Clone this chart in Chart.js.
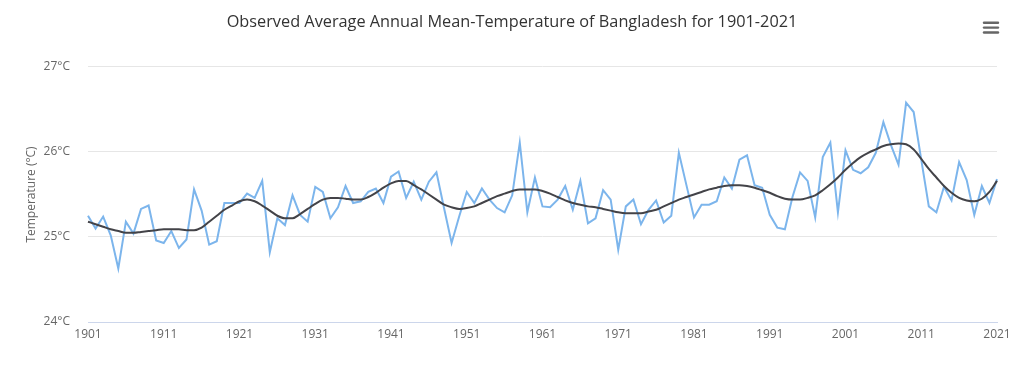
<!DOCTYPE html>
<html>
<head>
<meta charset="utf-8">
<title>Observed Average Annual Mean-Temperature of Bangladesh</title>
<script src="https://cdn.jsdelivr.net/npm/chart.js@4/dist/chart.umd.min.js"></script>
<style>
    html, body { margin: 0; padding: 0; background: #ffffff; }
    #wrap { width: 1024px; height: 380px; }
</style>
</head>
<body>
<div id="wrap"><canvas id="tempChart" width="1024" height="380"></canvas></div>
<script>
// Data
const years = [];
for (let y = 1901; y <= 2021; y++) years.push(String(y));

// observed annual mean (°C)
const observed = [
    25.25, 25.10, 25.24, 25.02, 24.63, 25.18, 25.04, 25.33, 25.37, 24.96,
    24.93, 25.07, 24.87, 24.97, 25.56, 25.31, 24.91, 24.95, 25.40, 25.40,
    25.40, 25.51, 25.46, 25.66, 24.82, 25.22, 25.14, 25.49, 25.26, 25.18,
    25.59, 25.53, 25.22, 25.35, 25.60, 25.40, 25.42, 25.53, 25.57, 25.40,
    25.71, 25.77, 25.46, 25.65, 25.44, 25.65, 25.76, 25.34, 24.93, 25.24,
    25.53, 25.40, 25.57, 25.44, 25.34, 25.29, 25.49, 26.11, 25.29, 25.70,
    25.36, 25.35, 25.44, 25.60, 25.32, 25.66, 25.16, 25.22, 25.55, 25.44,
    24.85, 25.36, 25.44, 25.15, 25.32, 25.43, 25.17, 25.25, 25.99, 25.61,
    25.23, 25.38, 25.38, 25.42, 25.70, 25.57, 25.91, 25.96, 25.61, 25.58,
    25.26, 25.11, 25.09, 25.47, 25.76, 25.66, 25.23, 25.94, 26.11, 25.29,
    26.02, 25.79, 25.75, 25.82, 25.99, 26.35, 26.08, 25.85, 26.58, 26.47,
    25.91, 25.36, 25.29, 25.59, 25.43, 25.88, 25.67, 25.26, 25.60, 25.40,
    25.68
];

// smoothed trend (°C)
const smoothed = [
    25.18, 25.15, 25.12, 25.09, 25.07, 25.05, 25.05, 25.06, 25.07, 25.08,
    25.09, 25.09, 25.09, 25.08, 25.08, 25.11, 25.18, 25.25, 25.32, 25.37,
    25.42, 25.44, 25.42, 25.37, 25.31, 25.25, 25.22, 25.22, 25.27, 25.33,
    25.39, 25.44, 25.46, 25.46, 25.45, 25.44, 25.44, 25.47, 25.52, 25.58,
    25.63, 25.66, 25.66, 25.61, 25.56, 25.50, 25.44, 25.38, 25.35, 25.33,
    25.34, 25.36, 25.40, 25.44, 25.48, 25.51, 25.54, 25.56, 25.56, 25.56,
    25.54, 25.51, 25.47, 25.43, 25.40, 25.38, 25.36, 25.35, 25.33, 25.31,
    25.29, 25.28, 25.28, 25.28, 25.30, 25.32, 25.36, 25.40, 25.44, 25.47,
    25.50, 25.53, 25.56, 25.58, 25.60, 25.61, 25.61, 25.60, 25.58, 25.55,
    25.52, 25.48, 25.45, 25.44, 25.44, 25.46, 25.49, 25.55, 25.62, 25.70,
    25.79, 25.87, 25.94, 25.99, 26.03, 26.07, 26.09, 26.10, 26.09, 26.03,
    25.92, 25.80, 25.70, 25.60, 25.52, 25.46, 25.43, 25.42, 25.45, 25.53,
    25.66
];

const yTicks = [24, 25, 26, 27];
const titleText = 'Observed Average Annual Mean-Temperature of Bangladesh for 1901-2021';

// Menu icon (top right)
const menuIcon = {
    id: 'menuIcon',
    afterDraw(chart) {
        const ctx = chart.ctx;
        ctx.save();
        ctx.strokeStyle = '#666666';
        ctx.lineWidth = 2.4;
        ctx.lineCap = 'round';
        [22.7, 27.6, 32.5].forEach(y => {
            ctx.beginPath();
            ctx.moveTo(984, y);
            ctx.lineTo(998, y);
            ctx.stroke();
        });
        ctx.restore();
    }
};

// Chart
const ctx = document.getElementById('tempChart').getContext('2d');
new Chart(ctx, {
    type: 'line',
    data: {
        labels: years,
        datasets: [{
            label: 'Observed',
            data: observed,
            borderColor: '#7cb5ec',
            borderWidth: 2,
            pointRadius: 0,
            tension: 0,
            order: 2
        }, {
            label: 'Smoothed',
            data: smoothed,
            borderColor: '#434348',
            borderWidth: 2,
            pointRadius: 0,
            tension: 0.4,
            cubicInterpolationMode: 'monotone',
            order: 1
        }]
    },
    options: {
        responsive: false,
        animation: false,
        layout: { padding: 0 },
        plugins: {
            legend: { display: false },
            tooltip: { enabled: false },
            title: {
                display: true,
                text: titleText,
                color: '#333333',
                font: { family: 'Open Sans', size: 16.3, weight: 'normal' },
                padding: { top: 12.2, bottom: 35.2 }
            }
        },
        scales: {
            x: {
                grid: { display: false, drawTicks: false },
                border: { display: true, color: '#ccd6eb', width: 1 },
                ticks: {
                    color: '#666666',
                    font: { family: 'Open Sans', size: 12 },
                    padding: 5,
                    autoSkip: false,
                    maxRotation: 0,
                    callback: function (val, i) {
                        return i % 10 === 0 ? this.getLabelForValue(val) : null;
                    }
                },
                afterFit(scale) { scale.height = 58; }
            },
            y: {
                min: 24,
                max: 27,
                afterBuildTicks(scale) { scale.ticks = yTicks.map(v => ({ value: v })); },
                grid: { color: '#e6e6e6', drawTicks: false },
                border: { display: false },
                ticks: {
                    color: '#666666',
                    font: { family: 'Open Sans', size: 12 },
                    padding: 18,
                    callback: v => v + '°C'
                },
                title: {
                    display: true,
                    text: 'Temperature (°C)',
                    color: '#666666',
                    font: { family: 'Open Sans', size: 12 },
                    padding: { top: 24, bottom: 0 }
                },
                afterFit(scale) { scale.width = 88; }
            },
            // empty right gutter so the title stays centred on the page
            gutter: {
                type: 'linear',
                position: 'right',
                display: true,
                grid: { display: false, drawTicks: false },
                border: { display: false },
                ticks: { display: false },
                afterFit(scale) { scale.width = 27; }
            }
        }
    },
    plugins: [menuIcon]
});
</script>
</body>
</html>
